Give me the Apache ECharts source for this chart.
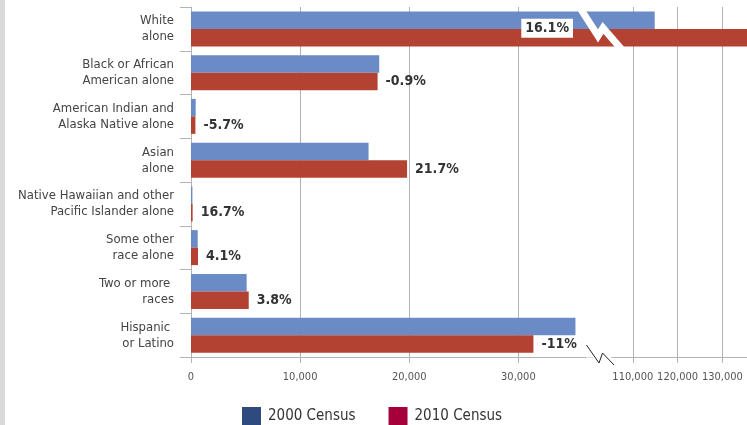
<!DOCTYPE html>
<html>
<head>
<meta charset="utf-8">
<script src="https://cdn.jsdelivr.net/npm/echarts@6/dist/echarts.min.js"></script>
<style>
html,body{margin:0;padding:0;background:#fff;}
#chart{width:747px;height:425px;}
</style>
</head>
<body>
<div id="chart"></div>
<script>
// ---- data ----
var categories = [
  'White\nalone',
  'Black or African\nAmerican alone',
  'American Indian and\nAlaska Native alone',
  'Asian\nalone',
  'Native Hawaiian and other\nPacific Islander alone',
  'Some other\nrace alone',
  'Two or more \nraces',
  'Hispanic \nor Latino'
];
var census2000 = [114900, 17250, 430, 16270, 130, 615, 5100, 35230];
var census2010 = [136500, 17100, 405, 19800, 150, 640, 5290, 31380];
var pctChange = ['16.1%', '-0.9%', '-5.7%', '21.7%', '16.7%', '4.1%', '3.8%', '-11%'];
var seriesNames = ['2000 Census', '2010 Census'];
var lowTicksMax = 36380;      // left segment of broken axis
var highTicksMin = 100000;    // right segment of broken axis
var highTicksMax = 135500;

var FONT = '"Liberation Sans Narrow", "DejaVu Sans Condensed", "Arial Narrow", sans-serif';
var BLUE = '#6b8bc6', RED = '#b44232';
var GRID_C = '#b3b3b3';

var chart = echarts.init(document.getElementById('chart'), null, {renderer: 'canvas'});

function fmt(v){ return v.toLocaleString('en-US'); }

var data2010Left = census2010.map(function (v, i) {
  var item = {value: v};
  if (i === 0) {
    item.label = {
      position: 'insideRight', distance: 15, offset: [0, -9.5],
      backgroundColor: '#fff', padding: [3, 4, 2, 4]
    };
  }
  return item;
});

var commonY = {
  type: 'category', data: categories, inverse: true
};

var option = {
  animation: false,
  backgroundColor: '#fff',
  grid: [
    {left: 191, top: 7, width: 397, height: 350, containLabel: false, outerBoundsMode: 'none'},
    {left: 588, top: 7, width: 159, height: 350, containLabel: false, outerBoundsMode: 'none'}
  ],
  xAxis: [
    {
      type: 'value', gridIndex: 0, min: 0, max: lowTicksMax, interval: 10000,
      axisLine: {show: true, lineStyle: {color: GRID_C, width: 1}},
      axisTick: {show: true, length: 6, lineStyle: {color: GRID_C}},
      splitLine: {show: true, showMinLine: false, showMaxLine: false, lineStyle: {color: GRID_C, width: 1}},
      axisLabel: {showMaxLabel: false, color: '#555', fontFamily: FONT, fontSize: 11, margin: 15, formatter: fmt}
    },
    {
      type: 'value', gridIndex: 1, min: highTicksMin, max: highTicksMax, interval: 10000,
      axisLine: {show: true, lineStyle: {color: GRID_C, width: 1}},
      axisTick: {show: true, length: 6, lineStyle: {color: GRID_C}},
      splitLine: {show: true, showMinLine: false, showMaxLine: false, lineStyle: {color: GRID_C, width: 1}},
      axisLabel: {showMinLabel: false, showMaxLabel: false, color: '#555', fontFamily: FONT, fontSize: 11, margin: 15, formatter: fmt}
    }
  ],
  yAxis: [
    Object.assign({}, commonY, {
      gridIndex: 0,
      axisLine: {show: true, lineStyle: {color: GRID_C}},
      axisTick: {show: true, length: 11, lineStyle: {color: GRID_C}},
      axisLabel: {color: '#444', fontFamily: FONT, fontSize: 13, lineHeight: 16, margin: 17, align: 'right'}
    }),
    Object.assign({}, commonY, {gridIndex: 1, show: false})
  ],
  legend: {
    left: 242, top: 407, padding: 0, itemWidth: 19, itemHeight: 18, itemGap: 33, icon: 'rect',
    selectedMode: false,
    textStyle: {fontFamily: FONT, fontSize: 15, color: '#333', padding: [0, 0, 0, 2]},
    data: [
      {name: seriesNames[0], itemStyle: {color: '#2e4a7f'}},
      {name: seriesNames[1], itemStyle: {color: '#a6003a'}}
    ]
  },
  series: [
    {
      name: seriesNames[0], type: 'bar', xAxisIndex: 0, yAxisIndex: 0,
      data: census2000, barGap: '0%', barCategoryGap: '20%', clip: true,
      itemStyle: {color: BLUE}, z: 3
    },
    {
      name: seriesNames[1], type: 'bar', xAxisIndex: 0, yAxisIndex: 0,
      data: data2010Left, barGap: '0%', barCategoryGap: '20%', clip: true,
      itemStyle: {color: RED}, z: 3,
      label: {
        show: true, position: 'right', distance: 8,
        fontFamily: FONT, fontSize: 14, fontWeight: 'bold', color: '#333',
        formatter: function (p) { return pctChange[p.dataIndex]; }
      }
    },
    {
      name: seriesNames[0], type: 'bar', xAxisIndex: 1, yAxisIndex: 1,
      data: census2000, barGap: '0%', barCategoryGap: '20%', clip: true,
      itemStyle: {color: BLUE}, z: 3
    },
    {
      name: seriesNames[1], type: 'bar', xAxisIndex: 1, yAxisIndex: 1,
      data: census2010, barGap: '0%', barCategoryGap: '20%', clip: true,
      itemStyle: {color: RED}, z: 3
    }
  ]
};
chart.setOption(option);

// decorations: broken-axis marks and the page's left strip
function drawDecor() {
  var bx = chart.convertToPixel({gridIndex: 0}, [lowTicksMax, 0])[0];
  var axisY = 357;
  var topBar = chart.convertToPixel({yAxisIndex: 0}, categories[0]);
  var g = [];
  g.push({type: 'rect', shape: {x: 0, y: 0, width: 5, height: 425}, style: {fill: '#d9d9d9'}, z: 100, silent: true});
  // white cut through the White bars
  g.push({
    type: 'polyline', z: 100, silent: true,
    shape: {points: [[bx - 8, topBar - 21], [bx + 10, topBar + 7], [bx + 15, topBar - 1], [bx + 34, topBar + 21]]},
    style: {stroke: '#fff', lineWidth: 7, fill: null, lineJoin: 'miter'}
  });
  // cover axis between segments
  g.push({type: 'rect', z: 100, silent: true, shape: {x: bx - 2, y: axisY + 0.5, width: 26, height: 10}, style: {fill: '#fff'}});
  g.push({type: 'rect', z: 100, silent: true, shape: {x: bx + 5, y: axisY - 3, width: 18, height: 6}, style: {fill: '#fff'}});
  g.push({
    type: 'polyline', z: 101, silent: true,
    shape: {points: [[bx - 1.5, axisY - 12], [bx + 11, axisY + 6], [bx + 14.5, axisY - 4], [bx + 26, axisY + 8]]},
    style: {stroke: '#222', lineWidth: 1, fill: null}
  });
  chart.setOption({graphic: g});
}
drawDecor();
</script>
</body>
</html>
